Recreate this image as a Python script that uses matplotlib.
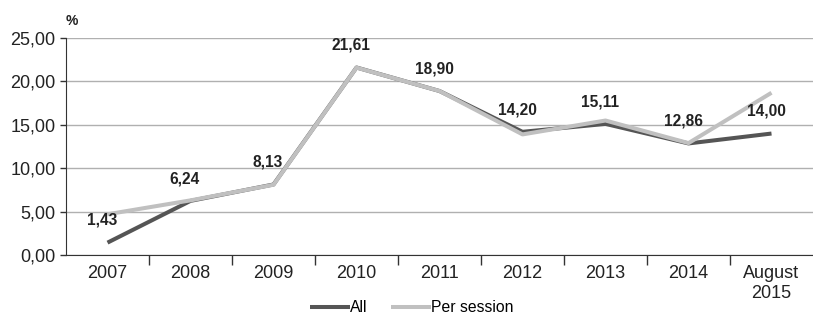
import numpy as np
import matplotlib.pyplot as plt
from matplotlib.ticker import FixedLocator, FuncFormatter

plt.rcParams['font.family'] = ['Liberation Sans', 'DejaVu Sans']

# Data
years = ["2007", "2008", "2009", "2010", "2011", "2012", "2013", "2014", "August\n2015"]
all_vals = [1.43, 6.24, 8.13, 21.61, 18.90, 14.20, 15.11, 12.86, 14.00]
per_session = [4.7, 6.3, 8.1, 21.6, 18.9, 13.9, 15.5, 12.9, 18.7]

x = np.arange(len(years))

fig = plt.figure(figsize=(8.13, 3.2), dpi=100, facecolor='white')
ax = fig.add_axes([0.0812, 0.203, 0.9188, 0.678])

ax.plot(x, all_vals, color='#555555', lw=2.9, label='All', solid_capstyle='butt', zorder=2)
ax.plot(x, per_session, color='#c0c0c0', lw=2.9, label='Per session', solid_capstyle='butt', zorder=3)

# value labels (All series)
for xi, v in zip(x, all_vals):
    ax.annotate('{:.2f}'.format(v).replace('.', ','), (xi, v), xytext=(-4, 16),
                textcoords='offset points', ha='center', va='center',
                fontsize=11.2, fontweight='bold', color='#222222', zorder=5)

ax.set_xlim(-0.5, len(years) - 0.5)
ax.set_ylim(0, 25)
ax.set_yticks(np.arange(0, 26, 5))
ax.yaxis.set_major_formatter(FuncFormatter(lambda v, p: '{:.2f}'.format(v).replace('.', ',')))
ax.yaxis.grid(True, color='#b0b0b0', lw=1)
ax.set_axisbelow(True)

ax.set_xticks(x)
ax.set_xticklabels(years, linespacing=1.25)
ax.xaxis.set_minor_locator(FixedLocator(np.arange(0.5, len(years) - 1, 1)))
ax.tick_params(axis='x', which='major', length=0, pad=7, labelsize=13, colors='#222222')
ax.tick_params(axis='x', which='minor', length=7, width=1, color='#333333')
ax.tick_params(axis='y', length=4, width=1, color='#333333', labelsize=13, labelcolor='#222222', pad=3.5)

for s in ['top', 'right']:
    ax.spines[s].set_visible(False)
ax.spines['left'].set_color('#333333')
ax.spines['bottom'].set_color('#333333')

fig.text(0.0812, 0.935, '%', fontsize=10, fontweight='bold', ha='left', va='center', color='#222222')

fig.legend(loc='lower center', bbox_to_anchor=(0.507, -0.03), ncol=2, frameon=False,
           fontsize=11.3, handlelength=2.5, handletextpad=0.05, columnspacing=1.5)

plt.savefig('out.png', dpi=100, facecolor='white')
